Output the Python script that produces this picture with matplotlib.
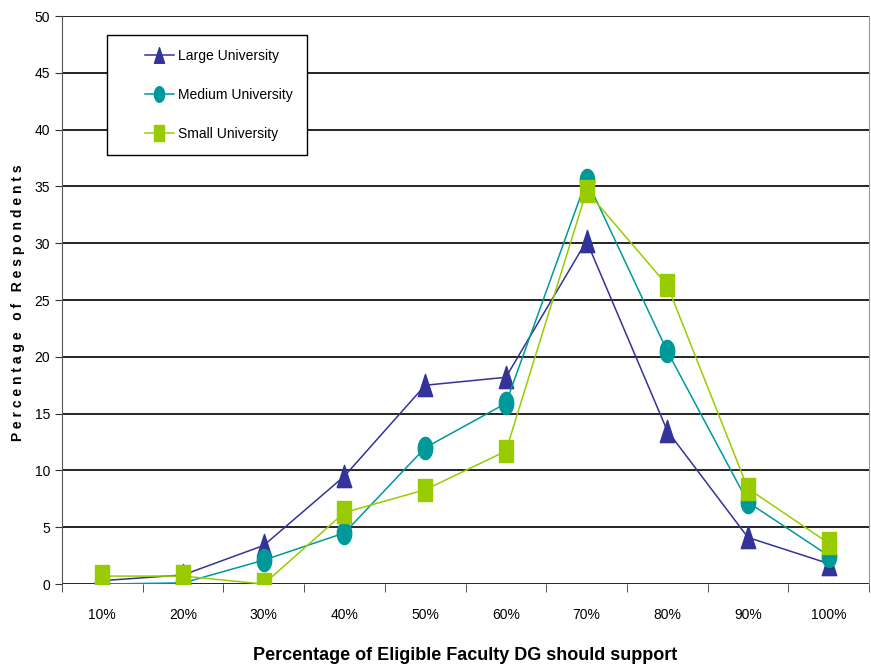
import numpy as np
import matplotlib.pyplot as plt
from matplotlib.path import Path
from matplotlib.legend_handler import HandlerLine2D

plt.rcParams['font.family'] = ['Liberation Sans Narrow', 'Liberation Sans', 'DejaVu Sans']

categorias = ['10%', '20%', '30%', '40%', '50%', '60%', '70%', '80%', '90%', '100%']
large = [0.3, 0.8, 3.4, 9.5, 17.5, 18.2, 30.2, 13.5, 4.1, 1.8]
medium = [0.0, 0.1, 2.1, 4.5, 12.0, 15.9, 35.6, 20.5, 7.2, 2.5]
small = [0.7, 0.7, 0.0, 6.3, 8.3, 11.7, 34.6, 26.3, 8.4, 3.6]

# marcadores estirados verticalmente, como en el original
tri = Path([(-0.65, -1), (0.65, -1), (0, 1), (-0.65, -1)], closed=True)
t = np.linspace(0, 2 * np.pi, 40)
elipse = Path(np.column_stack([0.65 * np.cos(t), np.sin(t)]), closed=True)
cuadro = Path([(-0.65, -1), (0.65, -1), (0.65, 1), (-0.65, 1), (-0.65, -1)], closed=True)

fig = plt.figure(figsize=(8.71, 6.69), dpi=100)
ax = fig.add_axes([0.0712, 0.127, 0.9265, 0.849])

x = np.arange(len(categorias))
ax.plot(x, large, color='#333399', lw=1.1, marker=tri, ms=16, mec='#333399', mfc='#333399', label='Large University')
ax.plot(x, medium, color='#009999', lw=1.1, marker=elipse, ms=16, mec='#009999', mfc='#009999', label='Medium University')
ax.plot(x, small, color='#99cc00', lw=1.1, marker=cuadro, ms=16, mec='#99cc00', mfc='#99cc00', label='Small University')

ax.set_xlim(-0.5, len(categorias) - 0.5)
ax.set_ylim(0, 50)
ax.set_yticks(np.arange(0, 51, 5))
ax.set_xticks(x)
ax.set_xticklabels(categorias)
ax.set_xticks(np.arange(-0.5, len(categorias)), minor=True)
ax.tick_params(axis='x', which='major', length=0, pad=17.5, labelsize=10)
ax.tick_params(axis='x', which='minor', length=6, direction='out', color='#333333')
ax.tick_params(axis='y', length=5, direction='out', labelsize=10, color='#333333')
ax.grid(axis='y', color='black', lw=1.2)
ax.set_axisbelow(True)
for s in ['top', 'bottom']:
    ax.spines[s].set_visible(False)
ax.spines['left'].set_color('#555555')
ax.spines['right'].set_color('#999999')

ax.set_ylabel('P e r c e n t a g e   o f   R e s p o n d e n t s', fontsize=10, fontweight='bold')
ax.yaxis.set_label_coords(-0.046, 0.496)
ax.set_xlabel('Percentage of Eligible Faculty DG should support', fontsize=13, fontweight='bold', labelpad=18)

leg = ax.legend(loc='upper left', bbox_to_anchor=(0.056, 0.967), fontsize=10,
                frameon=True, fancybox=False, edgecolor='black', framealpha=1,
                borderpad=1.0, labelspacing=1.8, handlelength=3.8, handletextpad=0.3,
                markerscale=0.7, borderaxespad=0,
                handler_map={plt.Line2D: HandlerLine2D(xpad=1.7)})
leg.get_frame().set_linewidth(1.0)

fig.savefig('out.png', dpi=100)
